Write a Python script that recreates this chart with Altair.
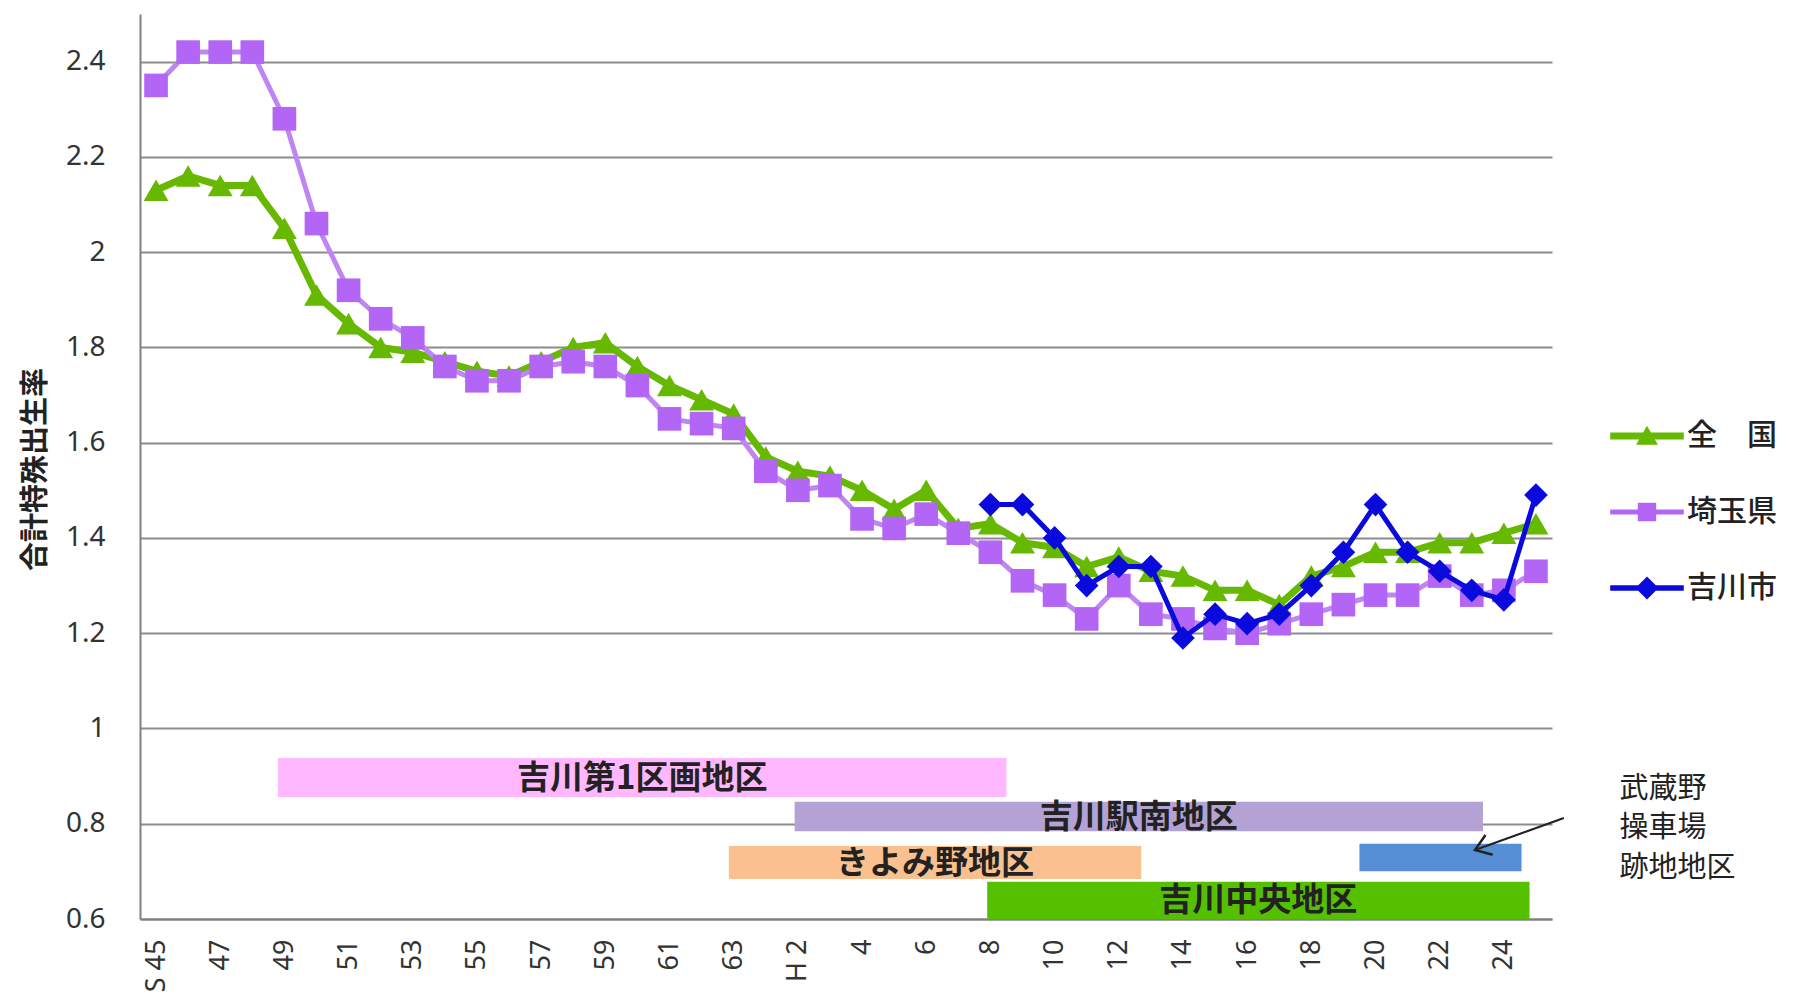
import altair as alt
import pandas as pd

# ---------------- data ----------------
years = list(range(1970, 2014))
tick_years = list(range(1970, 2013, 2))
tick_labels = ["S 45", "47", "49", "51", "53", "55", "57", "59", "61", "63",
               "H 2", "4", "6", "8", "10", "12", "14", "16", "18", "20", "22", "24"]

series_names = ["全　国", "埼玉県", "吉川市"]
zenkoku = [2.13, 2.16, 2.14, 2.14, 2.05, 1.91, 1.85, 1.80, 1.79, 1.77,
           1.75, 1.74, 1.77, 1.80, 1.81, 1.76, 1.72, 1.69, 1.66, 1.57,
           1.54, 1.53, 1.50, 1.46, 1.50, 1.42, 1.43, 1.39, 1.38, 1.34,
           1.36, 1.33, 1.32, 1.29, 1.29, 1.26, 1.32, 1.34, 1.37, 1.37,
           1.39, 1.39, 1.41, 1.43]
saitama = [2.35, 2.42, 2.42, 2.42, 2.28, 2.06, 1.92, 1.86, 1.82, 1.76,
           1.73, 1.73, 1.76, 1.77, 1.76, 1.72, 1.65, 1.64, 1.63, 1.54,
           1.50, 1.51, 1.44, 1.42, 1.45, 1.41, 1.37, 1.31, 1.28, 1.23,
           1.30, 1.24, 1.23, 1.21, 1.20, 1.22, 1.24, 1.26, 1.28, 1.28,
           1.32, 1.28, 1.29, 1.33]
yoshikawa = [None] * 26 + [1.47, 1.47, 1.40, 1.30, 1.34, 1.34, 1.19, 1.24, 1.22,
                           1.24, 1.30, 1.37, 1.47, 1.37, 1.33, 1.29, 1.27, 1.49]

districts = ["吉川第1区画地区", "吉川駅南地区", "きよみ野地区", "武蔵野操車場跡地地区", "吉川中央地区"]
district_labels = ["吉川第1区画地区", "吉川駅南地区", "きよみ野地区", "", "吉川中央地区"]
district_start = [1973.8, 1989.9, 1987.85, 2007.5, 1995.9]
district_end = [1996.5, 2011.35, 2000.7, 2012.55, 2012.8]
district_top = [0.938, 0.846, 0.753, 0.758, 0.678]
district_bottom = [0.856, 0.784, 0.684, 0.700, 0.600]

ann_lines = ["武蔵野", "操車場", "跡地地区"]
ann_x = [2015.6, 2015.6, 2015.6]
ann_y = [0.873, 0.791, 0.707]
arrow_from = (2013.87, 0.812)
arrow_to = (2011.1, 0.745)

# ---------------- styles ----------------
series_colors = ["#66B800", "#B366F5", "#0A0ADC"]
line_colors = ["#66B800", "#BF85F2", "#0A0ADC"]
line_widths = [7, 5, 5]
point_shapes = ["triangle-up", "square", "diamond"]
point_sizes = [620, 560, 560]
district_colors = ["#FFB8FF", "#B4A2D4", "#FAC090", "#558ED5", "#55C000"]

JP = "Noto Sans CJK JP"
NUM = "Noto Sans"

# legend symbols: line segment + marker (custom paths)
leg_paths = [
    "M-3.2,-0.3H3.2V0.3H-3.2Z M0,-0.9L0.95,0.75L-0.95,0.75Z",
    "M-3.2,-0.22H3.2V0.22H-3.2Z M-0.8,-0.8H0.8V0.8H-0.8Z",
    "M-3.2,-0.24H3.2V0.24H-3.2Z M0,-1L1,0L0,1L-1,0Z",
]

# ---------------- tables ----------------
rows = []
for name, vals in zip(series_names, [zenkoku, saitama, yoshikawa]):
    for y, v in zip(years, vals):
        if v is not None:
            rows.append({"year": y, "value": v, "series": name})
df = pd.DataFrame(rows)

df_d = pd.DataFrame({
    "district": districts, "label": district_labels,
    "start": district_start, "end": district_end,
    "top": district_top, "bottom": district_bottom,
})
df_ann = pd.DataFrame({"x": ann_x, "y": ann_y, "text": ann_lines})
df_arrow = pd.DataFrame({"x": [arrow_from[0]], "y": [arrow_from[1]],
                         "x2": [arrow_to[0]], "y2": [arrow_to[1]]})
df_leg = pd.DataFrame({"year": [None] * 3, "value": [None] * 3, "series": series_names})

# ---------------- scales / axes ----------------
xscale = alt.Scale(domain=[1969.5, 2013.5], nice=False, zero=False)
yscale = alt.Scale(domain=[0.6, 2.5], nice=False, zero=False)
label_arr = "[" + ",".join("'" + t + "'" for t in tick_labels) + "]"
xaxis = alt.Axis(values=tick_years, labelExpr=label_arr + "[(datum.value-1970)/2]",
                 labelAngle=270, labelFont=NUM, labelFontSize=27, labelColor="#333",
                 labelPadding=20, ticks=False, grid=False, domainColor="#808080",
                 domainWidth=2, title=None, labelOverlap=False, labelFlush=False)
yaxis = alt.Axis(values=[0.6, 0.8, 1.0, 1.2, 1.4, 1.6, 1.8, 2.0, 2.2, 2.4],
                 labelExpr="format(datum.value, '.1~f')",
                 labelFont=NUM, labelFontSize=28, labelColor="#333", labelPadding=35,
                 ticks=False, grid=True, gridColor="#8C8C8C", gridWidth=2,
                 domainColor="#808080", domainWidth=2,
                 title="合計特殊出生率", titleFont=JP, titleFontSize=29,
                 titleFontWeight="bold", titleColor="#222", titleX=-90, titleY=455)


def X(f):
    return alt.X(f, type="quantitative", scale=xscale, axis=xaxis)


def Y(f):
    return alt.Y(f, type="quantitative", scale=yscale, axis=yaxis)


layers = []

# district bars
bars = alt.Chart(df_d).mark_rect().encode(
    x=X("start"), x2="end", y=Y("top"), y2="bottom",
    fill=alt.Fill("district:N", scale=alt.Scale(domain=districts, range=district_colors),
                  legend=None),
)
bar_text = alt.Chart(df_d).transform_calculate(
    cx="(datum.start + datum.end) / 2", cy="(datum.top + datum.bottom) / 2"
).mark_text(font=JP, fontSize=33, fontWeight="bold", color="#222",
            align="center", baseline="middle", dy=1).encode(
    x=X("cx"), y=Y("cy"), text="label:N")
layers += [bars, bar_text]

# series lines and markers
for name, lc, pc, lw, shp, sz in zip(series_names, line_colors, series_colors,
                                     line_widths, point_shapes, point_sizes):
    sub = alt.Chart(df).transform_filter(alt.datum.series == name)
    layers.append(sub.mark_line(color=lc, strokeWidth=lw).encode(x=X("year"), y=Y("value")))
    layers.append(sub.mark_point(shape=shp, filled=True, size=sz, color=pc, opacity=1)
                  .encode(x=X("year"), y=Y("value")))

# legend-only layer
leg = alt.Legend(title=None, orient="none", legendX=1492, legendY=407,
                 labelFont=JP, labelFontSize=30, labelColor="#222", labelFontWeight=500,
                 labelOffset=25, rowPadding=46, padding=0, symbolSize=529,
                 symbolStrokeWidth=0)
legend_layer = alt.Chart(df_leg).mark_point(filled=True, size=529, opacity=1).encode(
    x=X("year"), y=Y("value"),
    color=alt.Color("series:N", scale=alt.Scale(domain=series_names, range=series_colors),
                    legend=leg),
    shape=alt.Shape("series:N", scale=alt.Scale(domain=series_names, range=leg_paths),
                    legend=leg),
)
layers.append(legend_layer)

# annotation text + arrow
ann = alt.Chart(df_ann).mark_text(font=JP, fontSize=29, color="#222", align="left",
                                  baseline="middle").encode(x=X("x"), y=Y("y"), text="text:N")
shaft = alt.Chart(df_arrow).mark_rule(color="#222", strokeWidth=2).encode(
    x=X("x"), y=Y("y"), x2="x2", y2="y2")
head = alt.Chart(df_arrow).mark_point(shape="M-1,-0.7L0,0L-1,0.7", filled=False,
                                      size=900, angle=160, color="#222",
                                      strokeWidth=2.5, opacity=1).encode(
    x=X("x2"), y=Y("y2"))
layers += [ann, shaft, head]

chart = alt.layer(*layers).properties(
    width=1412, height=905,
    padding={"left": 132, "top": 6, "right": 230, "bottom": 80},
    autosize=alt.AutoSizeParams(type="none"),
    background="white",
).configure_view(strokeWidth=0)

chart.save("out.html", embed_options={"renderer": "svg", "actions": False})
